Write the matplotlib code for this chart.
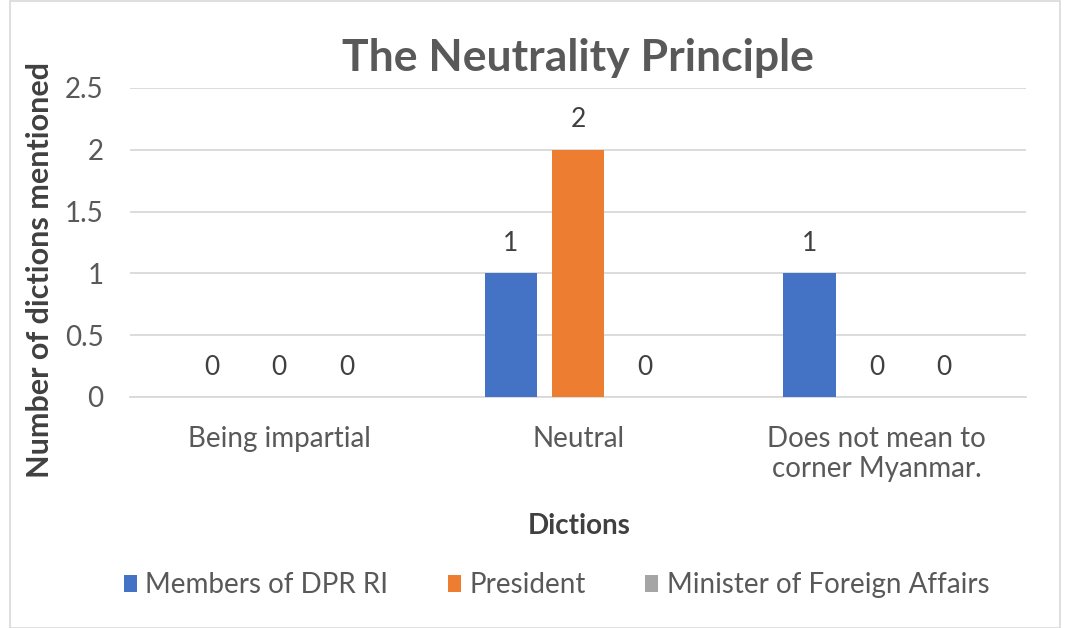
import matplotlib
matplotlib.use("Agg")
import matplotlib.pyplot as plt
import numpy as np

plt.rcParams['font.family'] = ['Lato', 'DejaVu Sans']

categories = ["Being impartial", "Neutral", "Does not mean to\ncorner Myanmar."]
series_names = ["Members of DPR RI", "President", "Minister of Foreign Affairs"]
members = [0, 1, 1]
president = [0, 2, 0]
minister = [0, 0, 0]
colors = ["#4472C4", "#ED7D31", "#A5A5A5"]
txt = "#595959"

fig = plt.figure(figsize=(10.7, 6.28), dpi=100)
ax = fig.add_axes([0.1215, 0.368, 0.8375, 0.492])

x = np.arange(len(categories))
width = 0.175
offs = [-0.225, 0, 0.225]
for vals, name, col, off in zip([members, president, minister], series_names, colors, offs):
    bars = ax.bar(x + off, vals, width, color=col, label=name, zorder=3)
    # value labels above each bar
    for b, v in zip(bars, vals):
        ax.annotate(str(v), (b.get_x() + b.get_width() / 2, v), xytext=(0, 16),
                    textcoords='offset points', ha='center', va='baseline',
                    fontsize=19, color='#404040')

ax.set_xlim(-0.5, 2.5)
ax.set_ylim(0, 2.5)
ax.set_yticks([0, 0.5, 1, 1.5, 2, 2.5])
ax.set_yticklabels(["0", "0.5", "1", "1.5", "2", "2.5"])
ax.set_xticks(x)
ax.set_xticklabels(categories)
ax.tick_params(axis='both', length=0, labelsize=20, labelcolor=txt)
ax.tick_params(axis='y', pad=19)
ax.tick_params(axis='x', pad=21)
ax.yaxis.grid(True, color='#D9D9D9', linewidth=1.3, zorder=0)
for s in ['top', 'right', 'left']:
    ax.spines[s].set_visible(False)
ax.spines['bottom'].set_color('#D9D9D9')
ax.spines['bottom'].set_linewidth(1.3)

ax.set_title("The Neutrality Principle", fontsize=32, fontweight='bold', color=txt, pad=12)
fig.text(579 / 1070, 1 - 526 / 628, "Dictions", fontsize=20, fontweight='bold',
         color='#404040', ha='center', va='center')
fig.text(40 / 1070, 1 - 270 / 628, "Number of dictions mentioned", fontsize=22,
         fontweight='bold', color='#404040', ha='center', va='center', rotation=90)

fig.legend(loc='center', bbox_to_anchor=(0.52, 0.068), ncol=3, frameon=False,
           fontsize=20, labelcolor=txt, handlelength=0.47, handleheight=0.6,
           handletextpad=0.3, columnspacing=2.15)

fig.patches.append(plt.Rectangle((0.009, 0.0), 0.982, 0.998, transform=fig.transFigure,
                                 fill=False, edgecolor='#D9D9D9', linewidth=1.2))

fig.savefig("out.png", dpi=100)
